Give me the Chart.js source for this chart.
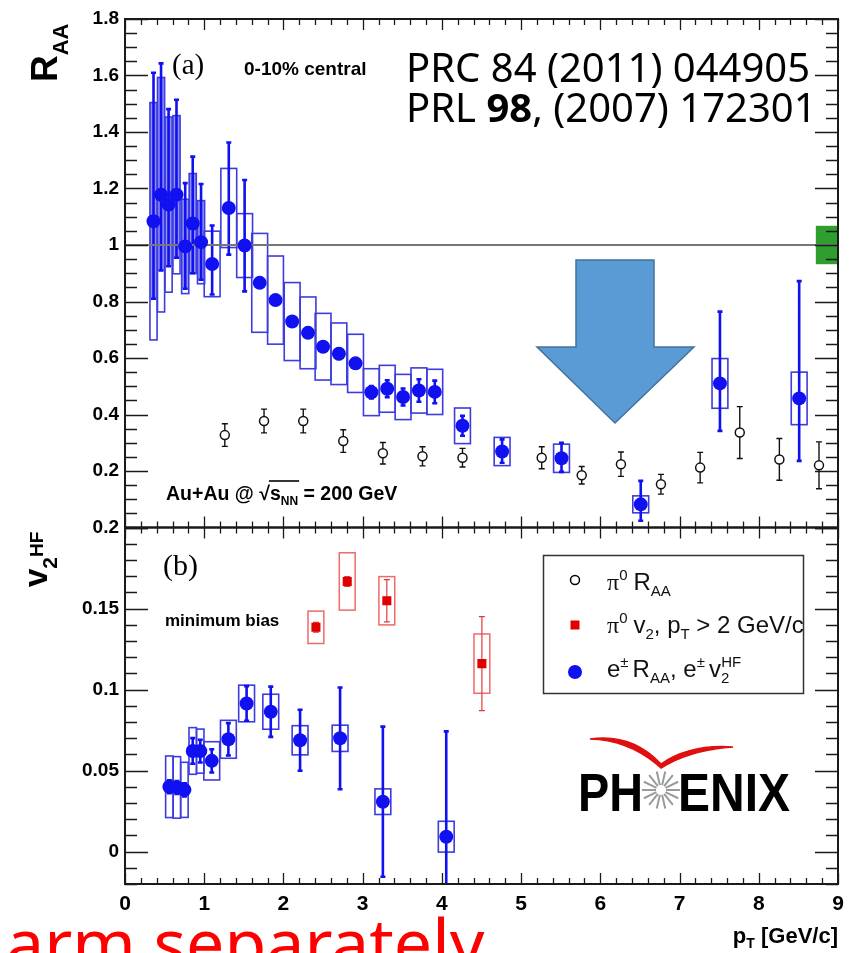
<!DOCTYPE html>
<html><head><meta charset="utf-8">
<script src="https://cdn.jsdelivr.net/npm/chart.js@4/dist/chart.umd.min.js"></script>
<style>
html,body{margin:0;padding:0;background:#fff;width:856px;height:953px;overflow:hidden;}
#wrap{position:relative;width:856px;height:953px;}
canvas{position:absolute;left:0;top:0;}
svg{position:absolute;left:0;top:0;pointer-events:none;}
</style></head><body>
<div id="wrap">
<canvas id="cA" width="856" height="953"></canvas>
<canvas id="cB" width="856" height="953"></canvas>
<svg id="ov" width="856" height="953" font-family="'Liberation Sans', Arial, sans-serif">
  <!-- arrow -->
  <polygon points="576,260 654,260 654,347 694,347 615,423 537,347 576,347" fill="#5b9bd5" stroke="#41719c" stroke-width="1.5"/>
  <!-- axis titles -->
  <text transform="translate(57,82) rotate(-90)" font-size="37" font-weight="bold">R<tspan font-size="22" dy="11">AA</tspan></text>
  <text transform="translate(47,587) rotate(-90)" font-size="33" font-weight="bold">v<tspan font-size="21" dy="10">2</tspan><tspan font-size="19" dy="-14">HF</tspan></text>
  <text x="838" y="943" text-anchor="end" font-size="22" font-weight="bold">p<tspan font-size="14" dy="5">T</tspan><tspan dy="-5"> [GeV/c]</tspan></text>
  <!-- panel a annotations -->
  <text x="172" y="74" font-family="'Liberation Serif', serif" font-size="29">(a)</text>
  <text x="244" y="75" font-size="19" font-weight="bold">0-10% central</text>
  <text x="406" y="82" font-family="'Noto Sans', sans-serif" font-size="40">PRC 84 (2011) 044905</text>
  <text x="406" y="122" font-family="'Noto Sans', sans-serif" font-size="40">PRL <tspan font-weight="bold">98</tspan>, (2007) 172301</text>
  <text id="auau" x="166" y="500" font-size="19.5" font-weight="bold">Au+Au @ √s<tspan font-size="12" dy="5">NN</tspan><tspan dy="-5"> = 200 GeV</tspan></text>
  <line id="sqbar" x1="0" y1="481" x2="0" y2="481" stroke="#000" stroke-width="1.6"/>
  <!-- panel b annotations -->
  <text x="163" y="575" font-family="'Liberation Serif', serif" font-size="30">(b)</text>
  <text x="165" y="626" font-size="17" font-weight="bold">minimum bias</text>
  <!-- legend -->
  <rect x="543.5" y="555.5" width="260" height="138" fill="#fff" stroke="#333" stroke-width="1.5"/>
  <circle cx="575" cy="580" r="4.5" fill="none" stroke="#000" stroke-width="1.5"/>
  <rect x="570.5" y="620.5" width="9" height="9" fill="#e00000"/>
  <circle cx="575" cy="672" r="7" fill="#1010f0"/>
  <g font-size="24" fill="#111">
    <text x="607" y="590"><tspan font-family="'Liberation Serif', serif">π</tspan><tspan font-size="15" dy="-10">0</tspan><tspan dx="6" dy="10">R</tspan><tspan font-size="15" dy="6">AA</tspan></text>
    <text x="607" y="633"><tspan font-family="'Liberation Serif', serif">π</tspan><tspan font-size="15" dy="-10">0</tspan><tspan dx="6" dy="10">v</tspan><tspan font-size="15" dy="6">2</tspan><tspan dy="-6">, p</tspan><tspan font-size="15" dy="6">T</tspan><tspan dy="-6"> &gt; 2 GeV/c</tspan></text>
    <text x="607" y="677">e<tspan font-size="15" dy="-10">±</tspan><tspan dx="4" dy="10">R</tspan><tspan font-size="15" dy="6">AA</tspan><tspan dy="-6">, e</tspan><tspan font-size="15" dy="-10">±</tspan><tspan dx="4" dy="10">v</tspan><tspan font-size="15" dy="6">2</tspan><tspan font-size="15" dx="-8" dy="-16">HF</tspan></text>
  </g>
  <!-- PHENIX logo -->
  <path d="M590,739 Q632,733 661,764 Q690,744 733,747 Q690,750 661,768 Q630,740 590,739 Z" fill="#e01010" stroke="#e01010" stroke-width="1.5"/>
  <g id="star" stroke="#9a9a9a" stroke-width="2"></g>
  <text x="578" y="811" font-size="53" font-weight="bold" textLength="65" lengthAdjust="spacingAndGlyphs">PH</text>
  <text x="678" y="811" font-size="53" font-weight="bold" textLength="112" lengthAdjust="spacingAndGlyphs">ENIX</text>
  <!-- slide text -->
  <text x="6" y="968" font-family="'Noto Sans', sans-serif" font-size="68" fill="#ff0000">arm separately</text>
</svg>
</div>
<script>
// ---------------- DATA ----------------
// Panel (a): e± R_AA, 0-10% central
const eRaaPt = [0.36,0.455,0.55,0.65,0.76,0.855,0.96,1.10,1.31,1.51,1.70,1.90,2.11,2.31,2.50,2.70,2.91,3.11,3.31,3.51,3.71,3.91,4.26,4.76,5.51,6.51,7.51,8.51];
const eRaa = [1.084,1.178,1.143,1.178,0.995,1.076,1.010,0.933,1.131,0.998,0.866,0.805,0.729,0.689,0.640,0.615,0.581,0.479,0.491,0.462,0.485,0.480,0.360,0.269,0.245,0.082,0.510,0.457];
const eRaaStatUp = [0.526,0.465,0.338,0.336,0.224,0.237,0.206,0.136,0.232,0.232,0.015,0.015,0.015,0.015,0.015,0.018,0.018,0.022,0.030,0.030,0.040,0.040,0.035,0.043,0.055,0.083,0.254,0.415];
const eRaaStatDn = [0.274,0.268,0.218,0.223,0.150,0.176,0.133,0.108,0.165,0.162,0.015,0.015,0.015,0.015,0.015,0.018,0.018,0.022,0.030,0.030,0.040,0.040,0.035,0.040,0.048,0.058,0.168,0.221];
const eRaaSys = [0.420,0.415,0.310,0.280,0.167,0.177,0.147,0.116,0.140,0.113,0.175,0.156,0.138,0.127,0.118,0.109,0.103,0.083,0.083,0.080,0.080,0.080,0.063,0.050,0.050,0.030,0.088,0.093];
// Panel (a): pi0 R_AA
const pi0Pt = [1.26,1.755,2.25,2.755,3.255,3.755,4.26,5.26,5.765,6.26,6.765,7.26,7.76,8.26,8.76];
const pi0Raa = [0.327,0.377,0.377,0.306,0.263,0.252,0.247,0.247,0.185,0.224,0.153,0.212,0.336,0.241,0.220];
const pi0RaaErr = [0.040,0.042,0.042,0.040,0.038,0.034,0.033,0.039,0.031,0.043,0.035,0.054,0.092,0.074,0.083];
// Global normalisation uncertainty on R_AA (box at unity)
const normUnc = [0.068];
const unityX = [0, 9];
const unityY = [1, 1];
// Panel (b): e± v2^HF, minimum bias
const v2Pt = [0.56,0.655,0.75,0.855,0.95,1.095,1.305,1.535,1.84,2.21,2.715,3.255,4.055];
const v2HF = [0.0400,0.0396,0.0381,0.0621,0.0620,0.0560,0.0693,0.0914,0.0863,0.0687,0.0699,0.0308,0.0092];
const v2HFStat = [0.004,0.004,0.004,0.0079,0.007,0.0072,0.010,0.0107,0.0155,0.0188,0.0314,0.0463,0.065];
const v2HFSys = [0.019,0.019,0.017,0.0144,0.0136,0.0118,0.0117,0.0113,0.0108,0.0090,0.0081,0.0079,0.0095];
// Panel (b): pi0 v2, pT > 2 GeV/c
const pi0V2Pt = [2.41,2.805,3.305,4.505];
const pi0V2 = [0.1384,0.1667,0.1548,0.1160];
const pi0V2Stat = [0.003,0.003,0.013,0.029];
const pi0V2Sys = [0.010,0.0177,0.0149,0.0183];
// Ticks
const yTicksA = [0.2,0.4,0.6,0.8,1,1.2,1.4,1.6,1.8];
const yLabelsA = ['0.2','0.4','0.6','0.8','1','1.2','1.4','1.6','1.8'];
const yTicksB = [0,0.05,0.1,0.15,0.2];
const yLabelsB = ['0','0.05','0.1','0.15','0.2'];
const xTicks = [0,1,2,3,4,5,6,7,8,9];
const xLabels = ['0','1','2','3','4','5','6','7','8','9'];

// ---------------- STYLE / HELPERS ----------------
const FONT = "'Liberation Sans', Arial, Helvetica, sans-serif";
const BLUE = '#1010f0', BOXBLUE = '#3c3ce0', RED = '#e00000', BOXRED = '#ef6a6a';

function clipArea(ctx, a){ ctx.beginPath(); ctx.rect(a.left, a.top, a.width, a.height); ctx.clip(); }
function errBar(ctx, x, yHi, yLo, cap){
  ctx.moveTo(x, yHi); ctx.lineTo(x, yLo);
  if (cap){ ctx.moveTo(x-cap, yHi); ctx.lineTo(x+cap, yHi); ctx.moveTo(x-cap, yLo); ctx.lineTo(x+cap, yLo); }
}

const rootFrame = {
  id: 'rootFrame',
  afterDraw(chart, args, o){
    const {ctx, chartArea:a, scales} = chart;
    const xs = scales.x, ys = scales.y;
    ctx.save();
    ctx.strokeStyle = '#1a1a1a';
    ctx.lineWidth = 1.3;
    ctx.beginPath();
    const n0 = Math.ceil(ys.min / o.yMinor - 1e-6), n1 = Math.floor(ys.max / o.yMinor + 1e-6);
    for (let n = n0; n <= n1; n++){
      const v = n * o.yMinor;
      const r = v / o.yMajor;
      const major = Math.abs(r - Math.round(r)) < 1e-6;
      const L = major ? 23 : 12;
      const py = Math.round(ys.getPixelForValue(v)) + 0.5;
      ctx.moveTo(a.left, py); ctx.lineTo(a.left + L, py);
      ctx.moveTo(a.right, py); ctx.lineTo(a.right - L, py);
    }
    const m1 = Math.round((xs.max - xs.min) / 0.2);
    for (let n = 0; n <= m1; n++){
      const v = xs.min + n * 0.2;
      const major = n % 5 === 0;
      const L = major ? 11 : 6;
      const px = Math.round(xs.getPixelForValue(v)) + 0.5;
      ctx.moveTo(px, a.top); ctx.lineTo(px, a.top + L);
      ctx.moveTo(px, a.bottom); ctx.lineTo(px, a.bottom - L);
    }
    ctx.stroke();
    ctx.lineWidth = 2;
    ctx.strokeRect(a.left, a.top, a.width, a.height);
    ctx.restore();
  }
};

const panelAMarks = {
  id: 'panelAMarks',
  beforeDatasetsDraw(chart){
    const {ctx, chartArea:a, scales:{x:xs, y:ys}} = chart;
    ctx.save(); clipArea(ctx, a);
    // normalisation box at unity
    ctx.fillStyle = '#2e9f2e';
    const gx0 = xs.getPixelForValue(xs.max - 0.28), gx1 = xs.getPixelForValue(xs.max);
    const gy0 = ys.getPixelForValue(1 + normUnc[0]), gy1 = ys.getPixelForValue(1 - normUnc[0]);
    ctx.fillRect(gx0, gy0, gx1 - gx0, gy1 - gy0);
    // low-pT filled regions
    ctx.fillStyle = 'rgba(55,55,235,0.55)';
    eRaaPt.forEach((pt, i) => {
      if (pt >= 1.0) return;
      const hw = 0.045;
      const hi = Math.min(eRaa[i] + eRaaSys[i], eRaa[i] + eRaaStatUp[i]);
      const lo = Math.max(eRaa[i] - eRaaSys[i], eRaa[i] - eRaaStatDn[i]);
      const x0 = xs.getPixelForValue(pt - hw), x1 = xs.getPixelForValue(pt + hw);
      const y0 = ys.getPixelForValue(hi), y1 = ys.getPixelForValue(lo);
      ctx.fillRect(x0, y0, x1 - x0, y1 - y0);
    });
    // systematic boxes
    ctx.strokeStyle = BOXBLUE; ctx.lineWidth = 1.6;
    eRaaPt.forEach((pt, i) => {
      const hw = pt < 1.0 ? 0.045 : 0.1;
      const x0 = xs.getPixelForValue(pt - hw), x1 = xs.getPixelForValue(pt + hw);
      const y0 = ys.getPixelForValue(eRaa[i] + eRaaSys[i]), y1 = ys.getPixelForValue(eRaa[i] - eRaaSys[i]);
      ctx.strokeRect(x0, y0, x1 - x0, y1 - y0);
    });
    // stat error bars (e)
    ctx.strokeStyle = BLUE; ctx.lineWidth = 2.6;
    ctx.beginPath();
    eRaaPt.forEach((pt, i) => {
      errBar(ctx, xs.getPixelForValue(pt), ys.getPixelForValue(eRaa[i] + eRaaStatUp[i]), ys.getPixelForValue(eRaa[i] - eRaaStatDn[i]), 2.5);
    });
    ctx.stroke();
    // pi0 error bars
    ctx.strokeStyle = '#111'; ctx.lineWidth = 1.4;
    ctx.beginPath();
    pi0Pt.forEach((pt, i) => {
      errBar(ctx, xs.getPixelForValue(pt), ys.getPixelForValue(pi0Raa[i] + pi0RaaErr[i]), ys.getPixelForValue(pi0Raa[i] - pi0RaaErr[i]), 3);
    });
    ctx.stroke();
    ctx.restore();
  }
};

const panelBMarks = {
  id: 'panelBMarks',
  beforeDatasetsDraw(chart){
    const {ctx, chartArea:a, scales:{x:xs, y:ys}} = chart;
    ctx.save(); clipArea(ctx, a);
    ctx.strokeStyle = BOXBLUE; ctx.lineWidth = 1.6;
    v2Pt.forEach((pt, i) => {
      const hw = pt < 1.0 ? 0.047 : 0.1;
      const x0 = xs.getPixelForValue(pt - hw), x1 = xs.getPixelForValue(pt + hw);
      const y0 = ys.getPixelForValue(v2HF[i] + v2HFSys[i]), y1 = ys.getPixelForValue(v2HF[i] - v2HFSys[i]);
      ctx.strokeRect(x0, y0, x1 - x0, y1 - y0);
    });
    ctx.strokeStyle = BLUE; ctx.lineWidth = 2.6;
    ctx.beginPath();
    v2Pt.forEach((pt, i) => {
      errBar(ctx, xs.getPixelForValue(pt), ys.getPixelForValue(v2HF[i] + v2HFStat[i]), ys.getPixelForValue(v2HF[i] - v2HFStat[i]), 2.5);
    });
    ctx.stroke();
    ctx.strokeStyle = BOXRED; ctx.lineWidth = 1.5;
    pi0V2Pt.forEach((pt, i) => {
      const x0 = xs.getPixelForValue(pt - 0.1), x1 = xs.getPixelForValue(pt + 0.1);
      const y0 = ys.getPixelForValue(pi0V2[i] + pi0V2Sys[i]), y1 = ys.getPixelForValue(pi0V2[i] - pi0V2Sys[i]);
      ctx.strokeRect(x0, y0, x1 - x0, y1 - y0);
    });
    ctx.strokeStyle = '#e23a3a'; ctx.lineWidth = 1.2;
    ctx.beginPath();
    pi0V2Pt.forEach((pt, i) => {
      errBar(ctx, xs.getPixelForValue(pt), ys.getPixelForValue(pi0V2[i] + pi0V2Stat[i]), ys.getPixelForValue(pi0V2[i] - pi0V2Stat[i]), 3);
    });
    ctx.stroke();
    ctx.restore();
  }
};

function yAxis(min, max, ticks, labels){
  return {
    type: 'linear', position: 'left', min, max,
    afterFit: s => { s.width = 125; },
    afterBuildTicks: s => { s.ticks = ticks.map(v => ({value: v})); },
    grid: {display: false, drawTicks: false},
    border: {display: false},
    ticks: {autoSkip: false, padding: 6, color: '#000',
      font: {family: FONT, weight: 'bold', size: 19},
      callback: (v, i) => labels[i]}
  };
}

// ---------------- CHART A ----------------
new Chart(document.getElementById('cA'), {
  type: 'scatter',
  data: {datasets: [
    {label: 'e± R_AA', data: eRaaPt.map((x, i) => ({x, y: eRaa[i]})),
     pointRadius: 7, pointBackgroundColor: BLUE, pointBorderColor: BLUE, pointBorderWidth: 0},
    {label: 'π0 R_AA', data: pi0Pt.map((x, i) => ({x, y: pi0Raa[i]})),
     pointRadius: 4.5, pointBackgroundColor: '#fff', pointBorderColor: '#111', pointBorderWidth: 1.5},
    {label: 'unity', data: unityX.map((x, i) => ({x, y: unityY[i]})), showLine: true,
     borderColor: '#777', borderWidth: 2, pointRadius: 0}
  ]},
  options: {
    responsive: false, animation: false, events: [],
    layout: {padding: {top: 19, bottom: 425.5, left: 0, right: 18}},
    plugins: {legend: {display: false}, tooltip: {enabled: false},
      rootFrame: {yMinor: 0.05, yMajor: 0.2}},
    scales: {
      x: {type: 'linear', min: 0, max: 9, display: false},
      y: yAxis(0, 1.8, yTicksA, yLabelsA)
    }
  },
  plugins: [panelAMarks, rootFrame]
});

// ---------------- CHART B ----------------
new Chart(document.getElementById('cB'), {
  type: 'scatter',
  data: {datasets: [
    {label: 'e± v2HF', data: v2Pt.map((x, i) => ({x, y: v2HF[i]})),
     pointRadius: 7, pointBackgroundColor: BLUE, pointBorderColor: BLUE, pointBorderWidth: 0},
    {label: 'π0 v2', data: pi0V2Pt.map((x, i) => ({x, y: pi0V2[i]})), pointStyle: 'rect',
     pointRadius: 6.4, pointBackgroundColor: RED, pointBorderColor: RED, pointBorderWidth: 0}
  ]},
  options: {
    responsive: false, animation: false, events: [],
    layout: {padding: {top: 527.5, bottom: 0, left: 0, right: 18}},
    plugins: {legend: {display: false}, tooltip: {enabled: false},
      rootFrame: {yMinor: 0.01, yMajor: 0.05}},
    scales: {
      x: {type: 'linear', position: 'bottom', min: 0, max: 9,
        afterFit: s => { s.height = 69; },
        afterBuildTicks: s => { s.ticks = xTicks.map(v => ({value: v})); },
        grid: {display: false, drawTicks: false}, border: {display: false},
        ticks: {autoSkip: false, padding: 8, maxRotation: 0, color: '#000',
          font: {family: FONT, weight: 'bold', size: 21},
          callback: (v, i) => xLabels[i]}},
      y: yAxis(-0.02, 0.2, yTicksB, yLabelsB)
    }
  },
  plugins: [panelBMarks, rootFrame]
});

// ---------------- overlay helpers ----------------
(function(){
  const t = document.getElementById('auau');
  const s = t.textContent;
  const i0 = s.indexOf('√s') + 1;
  const i1 = s.indexOf('NN') + 1;
  const x0 = t.getStartPositionOfChar(i0).x - 1;
  const x1 = t.getEndPositionOfChar(i1).x + 1;
  const ln = document.getElementById('sqbar');
  ln.setAttribute('x1', x0); ln.setAttribute('x2', x1);
  const g = document.getElementById('star');
  const cx = 661, cy = 790;
  for (let k = 0; k < 14; k++){
    const ang = k * Math.PI * 2 / 14;
    const l = document.createElementNS('http://www.w3.org/2000/svg', 'line');
    l.setAttribute('x1', cx + 5 * Math.cos(ang)); l.setAttribute('y1', cy + 5 * Math.sin(ang));
    l.setAttribute('x2', cx + 19 * Math.cos(ang)); l.setAttribute('y2', cy + 19 * Math.sin(ang));
    g.appendChild(l);
  }
})();
</script>
</body></html>
